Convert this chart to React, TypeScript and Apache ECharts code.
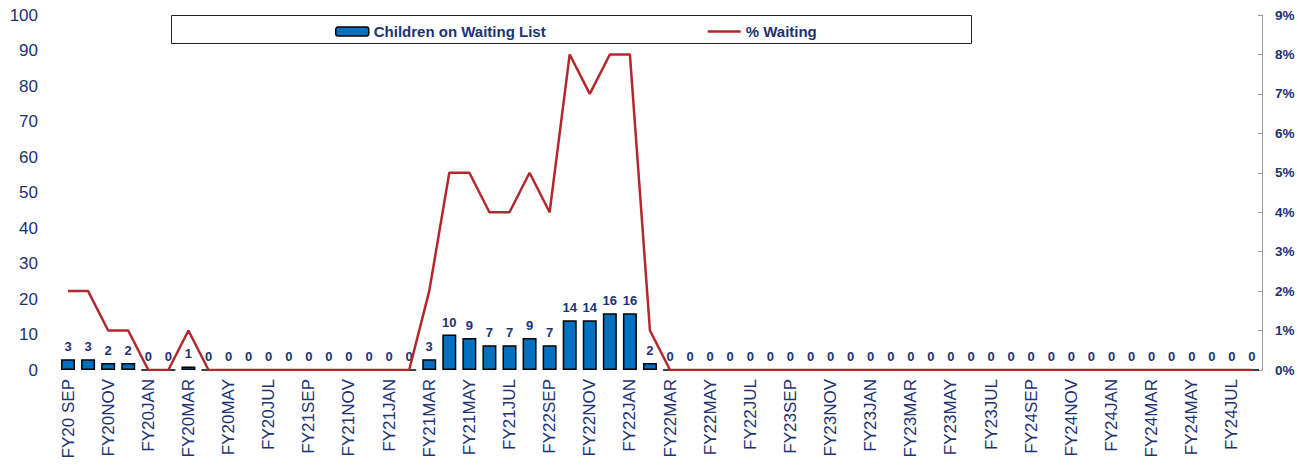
import React, { useEffect, useRef } from "react";
import * as echarts from "echarts";

const years = ["FY20", "FY21", "FY22", "FY23", "FY24"];
const months = ["SEP", "OCT", "NOV", "DEC", "JAN", "FEB", "MAR", "APR", "MAY", "JUN", "JUL", "AUG"];
const categories: string[] = [];
years.forEach((y) => months.forEach((m) => categories.push(y === "FY20" && m === "SEP" ? "FY20 SEP" : y + m)));

const childrenWaiting = [
  3, 3, 2, 2, 0, 0, 1, 0, 0, 0, 0, 0,
  0, 0, 0, 0, 0, 0, 3, 10, 9, 7, 7, 9,
  7, 14, 14, 16, 16, 2, 0, 0, 0, 0, 0, 0,
  0, 0, 0, 0, 0, 0, 0, 0, 0, 0, 0, 0,
  0, 0, 0, 0, 0, 0, 0, 0, 0, 0, 0, 0,
];
const pctWaiting = [
  0.02, 0.02, 0.01, 0.01, 0, 0, 0.01, 0, 0, 0, 0, 0,
  0, 0, 0, 0, 0, 0, 0.02, 0.05, 0.05, 0.04, 0.04, 0.05,
  0.04, 0.08, 0.07, 0.08, 0.08, 0.01, 0, 0, 0, 0, 0, 0,
  0, 0, 0, 0, 0, 0, 0, 0, 0, 0, 0, 0,
  0, 0, 0, 0, 0, 0, 0, 0, 0, 0, 0, 0,
];

const NAVY = "#1c3272";
const FONT = "Arial, 'Liberation Sans', sans-serif";

export default function App() {
  const ref = useRef<HTMLDivElement>(null);
  useEffect(() => {
    const chart = echarts.init(ref.current!, null, { renderer: "svg" });
    chart.setOption({
      animation: false,
      backgroundColor: "#ffffff",
      grid: { left: 58, right: 45, top: 15, bottom: 97, containLabel: false },
      graphic: [
        {
          type: "rect",
          shape: { x: 171.5, y: 15.5, width: 800, height: 28 },
          style: { fill: "#ffffff", stroke: "#222222", lineWidth: 1 },
          z: 5,
        },
      ],
      legend: {
        left: 330,
        top: 19,
        itemGap: 162,
        itemWidth: 33,
        itemHeight: 9,
        z: 10,
        textStyle: {
          color: NAVY,
          fontFamily: "'Liberation Sans Narrow', 'Arial Narrow', Arial, sans-serif",
          fontWeight: "bold",
          fontSize: 15,
        },
        data: [
          { name: "Children on Waiting List", itemStyle: { color: "#0070c0", borderColor: "#000", borderWidth: 1.5 } },
          {
            name: "% Waiting",
            icon: "path://M0,0 L0.01,0 L0.01,0.01 Z M0,3.3 L33,3.3 L33,5.7 L0,5.7 Z M33,9 L32.99,9 L32.99,8.99 Z",
            itemStyle: { color: "#b3272d", borderWidth: 0 },
          },
        ],
      },
      xAxis: {
        type: "category",
        data: categories,
        axisLine: { show: false },
        axisTick: { show: false },
        axisLabel: {
          interval: 1,
          rotate: 90,
          color: NAVY,
          fontFamily: FONT,
          fontSize: 17,
          margin: 9,
        },
      },
      yAxis: [
        {
          type: "value",
          min: 0,
          max: 100,
          interval: 10,
          splitLine: { show: false },
          axisLine: { show: false },
          axisTick: { show: false },
          axisLabel: { color: NAVY, fontFamily: FONT, fontSize: 17, margin: 20 },
        },
        {
          type: "value",
          min: 0,
          max: 0.09,
          interval: 0.01,
          position: "right",
          splitLine: { show: false },
          axisLine: { show: true, lineStyle: { color: "#999999", width: 1 } },
          axisTick: { show: true, inside: true, length: 4, lineStyle: { color: "#999999" } },
          axisLabel: {
            color: NAVY,
            fontFamily: FONT,
            fontSize: 13.5,
            fontWeight: "bold",
            margin: 13,
            formatter: (v: number) => Math.round(v * 100) + "%",
          },
        },
      ],
      series: [
        {
          name: "Children on Waiting List",
          type: "bar",
          data: childrenWaiting,
          barWidth: 14,
          itemStyle: { color: "#0070c0", borderColor: "#000000", borderWidth: 1.5 },
          label: {
            show: true,
            position: "top",
            distance: 6,
            color: NAVY,
            fontFamily: FONT,
            fontWeight: "bold",
            fontSize: 13,
          },
        },
        {
          name: "% Waiting",
          type: "line",
          yAxisIndex: 1,
          data: pctWaiting,
          symbol: "none",
          lineStyle: { color: "#b3272d", width: 2.5 },
          itemStyle: { color: "#b3272d" },
          z: 3,
        },
      ],
    });
    return () => chart.dispose();
  }, []);
  return <div ref={ref} style={{ width: 1307, height: 467, position: "absolute", left: 0, top: 0 }} />;
}
